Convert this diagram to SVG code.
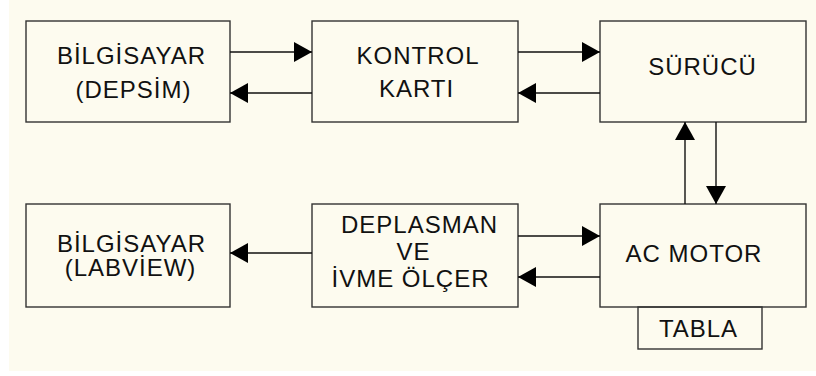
<svg xmlns="http://www.w3.org/2000/svg" width="816" height="376" viewBox="0 0 816 376">
  <style>
    .box { fill: none; stroke: #333333; stroke-width: 1.4; }
    .lbl { font-family: "Liberation Sans", Arial, sans-serif; font-size: 24px; letter-spacing: 1px; fill: #111111; text-anchor: middle; }
    .conn path { fill: none; stroke: #111111; stroke-width: 1.4; }
  </style>
  <defs>
    <marker id="ah" viewBox="0 0 18 20" refX="18" refY="10" markerWidth="18" markerHeight="20" markerUnits="userSpaceOnUse" orient="auto">
      <path d="M0,0 L18,10 L0,20 z" fill="#000000"/>
    </marker>
  </defs>
  <rect x="0" y="0" width="816" height="376" fill="#ffffff"/>
  <rect x="9" y="0" width="807" height="371" fill="#FDFBEF"/>

  <g id="bilgisayar-depsim">
    <rect class="box" x="26" y="21" width="204" height="101"/>
    <text class="lbl" x="131.5" y="64">BİLGİSAYAR</text>
    <text class="lbl" x="133.5" y="97.5">(DEPSİM)</text>
  </g>
  <g id="kontrol-karti">
    <rect class="box" x="312" y="21" width="206" height="101"/>
    <text class="lbl" x="418" y="64">KONTROL</text>
    <text class="lbl" x="416.5" y="97">KARTI</text>
  </g>
  <g id="surucu">
    <rect class="box" x="600" y="21" width="206" height="101"/>
    <text class="lbl" x="702.5" y="75">SÜRÜCÜ</text>
  </g>
  <g id="bilgisayar-labview">
    <rect class="box" x="26" y="204" width="204" height="103"/>
    <text class="lbl" x="131.5" y="251.5">BİLGİSAYAR</text>
    <text class="lbl" x="130.5" y="275.5">(LABVİEW)</text>
  </g>
  <g id="deplasman">
    <rect class="box" x="312" y="204" width="206" height="103"/>
    <text class="lbl" x="419.5" y="233">DEPLASMAN</text>
    <text class="lbl" x="413.5" y="260">VE</text>
    <text class="lbl" x="410.5" y="286.5">İVME ÖLÇER</text>
  </g>
  <g id="ac-motor">
    <rect class="box" x="600" y="204" width="206" height="103"/>
    <text class="lbl" x="694" y="261.5">AC MOTOR</text>
  </g>
  <g id="tabla">
    <rect class="box" x="638" y="307" width="124" height="42"/>
    <text class="lbl" x="698.5" y="336.5">TABLA</text>
  </g>

  <g id="connectors" class="conn">
    <path d="M230,52 H312" marker-end="url(#ah)"/>
    <path d="M312,93 H230" marker-end="url(#ah)"/>
    <path d="M518,52 H600" marker-end="url(#ah)"/>
    <path d="M600,93 H518" marker-end="url(#ah)"/>
    <path d="M685,204 V122" marker-end="url(#ah)"/>
    <path d="M716,122 V204" marker-end="url(#ah)"/>
    <path d="M312,253 H230" marker-end="url(#ah)"/>
    <path d="M518,236 H600" marker-end="url(#ah)"/>
    <path d="M600,277 H518" marker-end="url(#ah)"/>
  </g>
</svg>
